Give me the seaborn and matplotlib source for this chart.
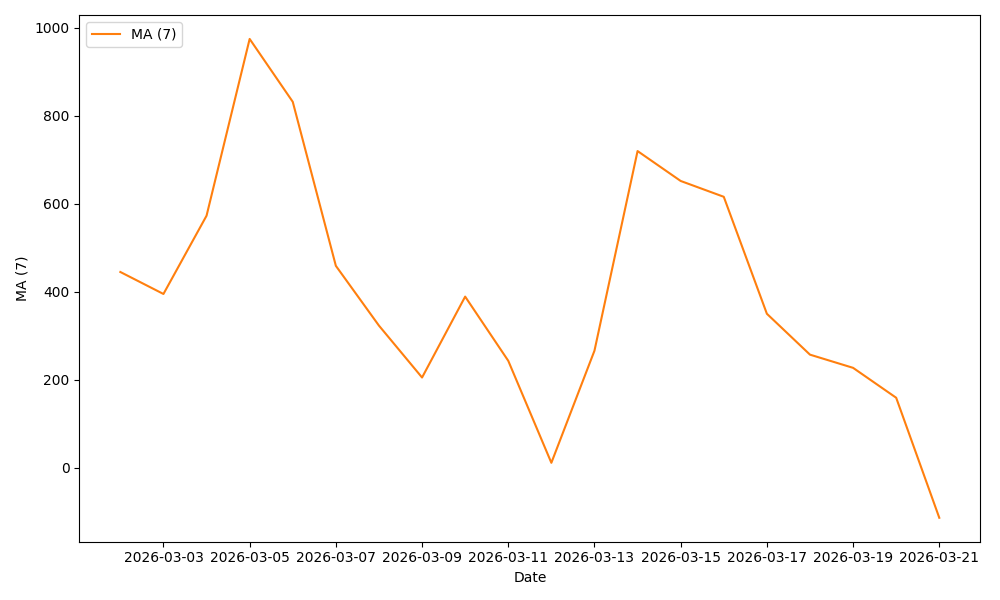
import pandas as pd
import matplotlib
matplotlib.use("Agg")
import matplotlib.pyplot as plt
import seaborn as sns

# MA (7) values
dates = pd.date_range("2026-03-02", "2026-03-21", freq="D")
ma7 = [445, 395, 573, 975, 832, 459, 323, 205, 389, 243,
       11, 266, 720, 652, 616, 350, 257, 227, 159, -114]

df = pd.DataFrame({"Date": dates, "MA (7)": ma7})

fig, ax = plt.subplots(figsize=(10, 6), dpi=100)
sns.lineplot(data=df, x="Date", y="MA (7)", color="#ff7f0e", label="MA (7)", ax=ax)
ax.legend(loc="upper left")
ax.set_xlabel("Date")
ax.set_ylabel("MA (7)")
plt.tight_layout()
plt.savefig("out.png")
